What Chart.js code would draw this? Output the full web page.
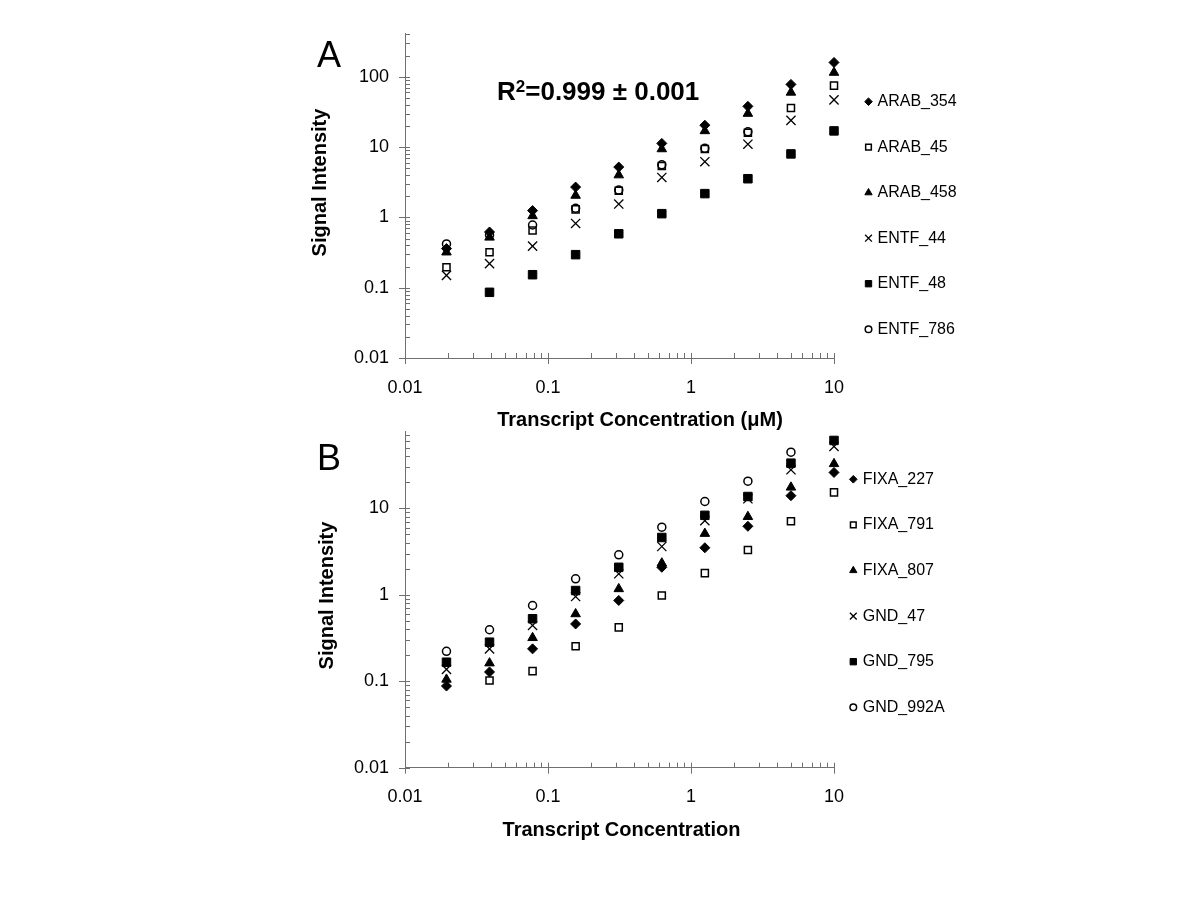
<!DOCTYPE html>
<html>
<head>
<meta charset="utf-8">
<title>Signal intensity vs transcript concentration</title>
<script src="https://cdn.jsdelivr.net/npm/chart.js@4.4.1/dist/chart.umd.min.js"></script>
<style>
  html, body { margin: 0; padding: 0; background: #fff; }
  #wrap { position: relative; width: 1200px; height: 900px; overflow: hidden; font-family: "Liberation Sans", Arial, sans-serif; color: #000; }
  canvas { position: absolute; left: 0; }
  #chartA { top: 0; }
  #chartB { top: 400px; }
  .paneel { position: absolute; font-size: 36px; line-height: 36px; }
  #r2 { position: absolute; left: 497px; top: 78px; font-weight: bold; font-size: 26px; line-height: 26px; white-space: nowrap; }
  #r2 span { font-size: 17px; position: relative; top: -8px; }
</style>
</head>
<body>
<div id="wrap">
  <canvas id="chartA" width="1200" height="440"></canvas>
  <canvas id="chartB" width="1200" height="480"></canvas>
  <div class="paneel" style="left:317px; top:37px">A</div>
  <div class="paneel" style="left:317px; top:440px">B</div>
  <div id="r2">R<span>2</span>=0.999 ± 0.001</div>
</div>
<script>
// transcript concentration (µM), doubling dilution series
const concentratie = [0.0195, 0.039, 0.078, 0.156, 0.3125, 0.625, 1.25, 2.5, 5, 10];

// panel A
const namenA = ["ARAB_354", "ARAB_45", "ARAB_458", "ENTF_44", "ENTF_48", "ENTF_786"];
const arab354 = [0.36, 0.62, 1.25, 2.7, 5.2, 11.3, 20.5, 38, 78, 160];
const arab45 = [0.195, 0.32, 0.65, 1.3, 2.4, 5.4, 9.4, 16, 36, 75];
const arab458 = [0.32, 0.52, 1.05, 2.05, 4.0, 9.4, 17, 30, 60, 115];
const entf44 = [0.15, 0.22, 0.39, 0.82, 1.55, 3.7, 6.2, 11, 24, 47];
const entf48 = [null, 0.086, 0.153, 0.295, 0.585, 1.13, 2.18, 3.55, 8.0, 17];
const entf786 = [0.42, 0.56, 0.78, 1.35, 2.45, 5.6, 9.6, 16.5, null, null];

// panel B
const namenB = ["FIXA_227", "FIXA_791", "FIXA_807", "GND_47", "GND_795", "GND_992A"];
const fixa227 = [0.088, 0.128, 0.237, 0.46, 0.86, 2.08, 3.5, 6.2, 14, 26];
const fixa791 = [null, 0.102, 0.131, 0.254, 0.42, 0.98, 1.78, 3.3, 7.1, 15.3];
const fixa807 = [0.105, 0.162, 0.318, 0.6, 1.17, 2.32, 5.1, 8.0, 17.5, 32.7];
const gnd47 = [0.137, 0.237, 0.442, 0.955, 1.75, 3.62, 7.2, 12.9, 27.9, 52];
const gnd795 = [0.166, 0.283, 0.528, 1.12, 2.08, 4.6, 8.3, 13.7, 33.3, 61];
const gnd992a = [0.222, 0.394, 0.752, 1.53, 2.9, 6.05, 12, 20.6, 44.6, null];

// axis labels
const xLabels = [0.01, 0.1, 1, 10];
const yLabelsA = [0.01, 0.1, 1, 10, 100];
const yLabelsB = [0.01, 0.1, 1, 10];

const lettertype = "'Liberation Sans', Arial, sans-serif";
const asKleur = "#707070";
Chart.defaults.font.family = lettertype;
Chart.defaults.color = "#000";

// marker per series position (same order in both panels)
const markers = [
  { pointStyle: "rectRot", pointRadius: 5, backgroundColor: "#000", borderColor: "#000", borderWidth: 1 },
  { pointStyle: "rect", pointRadius: 5, backgroundColor: "rgba(0,0,0,0)", borderColor: "#000", borderWidth: 1.5 },
  { pointStyle: "triangle", pointRadius: 5.5, backgroundColor: "#000", borderColor: "#000", borderWidth: 1 },
  { pointStyle: "crossRot", pointRadius: 6.5, backgroundColor: "#000", borderColor: "#000", borderWidth: 1.3 },
  { pointStyle: "rect", pointRadius: 6, backgroundColor: "#000", borderColor: "#000", borderWidth: 1 },
  { pointStyle: "circle", pointRadius: 4, backgroundColor: "rgba(0,0,0,0)", borderColor: "#000", borderWidth: 1.5 },
];
const legendaRadius = [3.8, 4, 4.2, 4.8, 4.5, 3.3];

/**
 * Tick positions on a log axis: 1..9 times every power of ten
 */
function logTicks(min, max) {
  const uit = [];
  for (let e = Math.floor(Math.log10(min)); e <= Math.ceil(Math.log10(max)); e++) {
    for (let m = 1; m <= 9; m++) {
      const v = Number((m * Math.pow(10, e)).toPrecision(6));
      if (v >= min * 0.9999 && v <= max * 1.0001) uit.push(v);
    }
  }
  return uit;
}

function isMacht(v) {
  const l = Math.log10(v);
  return Math.abs(l - Math.round(l)) < 1e-6;
}

// major ticks cross the axis, minor ticks point into the plot
const tickStreepjes = {
  id: "tickStreepjes",
  afterDraw(chart) {
    const { ctx, chartArea } = chart;
    const sx = chart.scales.x;
    const sy = chart.scales.y;
    ctx.save();
    ctx.strokeStyle = asKleur;
    ctx.lineWidth = 1;
    ctx.beginPath();
    sx.ticks.forEach((t) => {
      const px = Math.round(sx.getPixelForValue(t.value)) + 0.5;
      ctx.moveTo(px, chartArea.bottom - 5);
      ctx.lineTo(px, isMacht(t.value) ? chartArea.bottom + 6 : chartArea.bottom);
    });
    sy.ticks.forEach((t) => {
      const py = Math.round(sy.getPixelForValue(t.value)) + 0.5;
      ctx.moveTo(chartArea.left + 5, py);
      ctx.lineTo(isMacht(t.value) ? chartArea.left - 6 : chartArea.left, py);
    });
    ctx.stroke();
    ctx.restore();
  },
};

// axis titles and the legend on the right
const paneelExtra = {
  id: "paneelExtra",
  afterDraw(chart, args, o) {
    const ctx = chart.ctx;
    ctx.save();
    ctx.fillStyle = "#000";
    ctx.font = "bold 20px " + lettertype;
    ctx.textAlign = "center";
    ctx.textBaseline = "middle";
    ctx.fillText(o.xTitel, o.xTitelX, o.xTitelY);
    ctx.translate(o.yTitelX, o.yTitelY);
    ctx.rotate(-Math.PI / 2);
    ctx.fillText(o.yTitel, 0, 0);
    ctx.restore();

    ctx.save();
    ctx.font = "16px " + lettertype;
    ctx.textAlign = "left";
    ctx.textBaseline = "middle";
    chart.data.datasets.forEach((ds, i) => {
      const y = o.legendaY + i * o.legendaStap;
      ctx.fillStyle = ds.backgroundColor;
      ctx.strokeStyle = ds.borderColor;
      ctx.lineWidth = ds.borderWidth;
      Chart.helpers.drawPoint(ctx, {
        pointStyle: ds.pointStyle,
        radius: legendaRadius[i],
        borderWidth: ds.borderWidth,
        rotation: 0,
      }, o.legendaX, y);
      ctx.fillStyle = "#000";
      ctx.fillText(ds.label, o.legendaX + o.legendaTekst, y);
    });
    ctx.restore();
  },
};

function maakPaneel(id, reeksen, namen, yMax, yLabels, padding, extra) {
  const xTicks = logTicks(0.01, 10);
  const yTicks = logTicks(0.01, yMax);
  const datasets = reeksen.map((waarden, i) => ({
    label: namen[i],
    data: concentratie.map((c, j) => ({ x: c, y: waarden[j] })),
    clip: false,
    ...markers[i],
  }));

  return new Chart(document.getElementById(id), {
    type: "scatter",
    data: { datasets },
    options: {
      responsive: false,
      animation: false,
      events: [],
      layout: { padding },
      plugins: {
        legend: { display: false },
        tooltip: { enabled: false },
        paneelExtra: extra,
      },
      scales: {
        x: {
          type: "logarithmic",
          min: 0.01,
          max: 10,
          grid: { display: false, drawTicks: false },
          border: { display: true, color: asKleur, width: 1 },
          afterBuildTicks: (s) => { s.ticks = xTicks.map((v) => ({ value: v })); },
          afterFit: (s) => { s.height = 60; },
          ticks: {
            autoSkip: false,
            maxRotation: 0,
            padding: 19,
            font: { size: 18 },
            callback: (v) => (xLabels.includes(v) ? String(v) : ""),
          },
        },
        y: {
          type: "logarithmic",
          min: 0.01,
          max: yMax,
          grid: { display: false, drawTicks: false },
          border: { display: true, color: asKleur, width: 1 },
          afterBuildTicks: (s) => { s.ticks = yTicks.map((v) => ({ value: v })); },
          afterFit: (s) => { s.width = 95; },
          ticks: {
            autoSkip: false,
            padding: 16,
            font: { size: 18 },
            callback: (v) => (yLabels.includes(v) ? String(v) : ""),
          },
        },
      },
    },
    plugins: [tickStreepjes, paneelExtra],
  });
}

maakPaneel(
  "chartA",
  [arab354, arab45, arab458, entf44, entf48, entf786],
  namenA,
  420,
  yLabelsA,
  { left: 310, top: 33, right: 366, bottom: 22 },
  {
    xTitel: "Transcript Concentration (\u03bcM)", xTitelX: 640, xTitelY: 420,
    yTitel: "Signal Intensity", yTitelX: 320, yTitelY: 182.5,
    legendaX: 868.5, legendaY: 101.7, legendaStap: 45.5, legendaTekst: 9,
  }
);

// canvas B sits at top 400px
maakPaneel(
  "chartB",
  [fixa227, fixa791, fixa807, gnd47, gnd795, gnd992a],
  namenB,
  77,
  yLabelsB,
  { left: 310, top: 31.7, right: 366, bottom: 52.3 },
  {
    xTitel: "Transcript Concentration", xTitelX: 621.5, xTitelY: 430,
    yTitel: "Signal Intensity", yTitelX: 327, yTitelY: 195.5,
    legendaX: 853.3, legendaY: 79.3, legendaStap: 45.6, legendaTekst: 9.5,
  }
);
</script>
</body>
</html>
